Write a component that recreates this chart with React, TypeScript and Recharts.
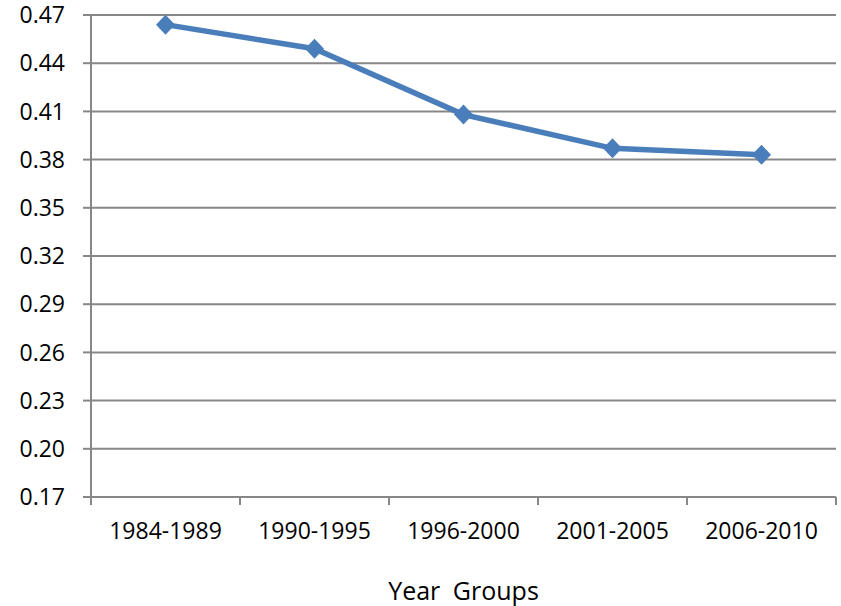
import { LineChart, Line, XAxis, YAxis, CartesianGrid, Label } from 'recharts'

const categories = ['1984-1989', '1990-1995', '1996-2000', '2001-2005', '2006-2010']
const values = [0.464, 0.449, 0.408, 0.387, 0.383]
const yTicks = [0.17, 0.2, 0.23, 0.26, 0.29, 0.32, 0.35, 0.38, 0.41, 0.44, 0.47]

// each category sits in the middle of its slot, boundaries get the tick marks
const data = categories.map((name, i) => ({ name, pos: i + 0.5, value: values[i] }))
const xTicks = Array.from({ length: categories.length * 2 + 1 }, (_, i) => i / 2)

const GRID = '#878787'
const BLUE = '#4A7EBB'
const INK = '#000'

const XTick = ({ x, y, payload }: any) => {
  const v = payload.value
  if (Number.isInteger(v)) {
    return <line x1={x} x2={x} y1={y} y2={y + 8} stroke={GRID} strokeWidth={2} />
  }
  return (
    <text x={x} y={y} dy={42} textAnchor="middle" fill={INK} fontSize={23}>
      {categories[Math.floor(v)]}
    </text>
  )
}

const Diamond = ({ cx, cy }: any) => (
  <path
    d={`M${cx},${cy - 10} L${cx + 9.5},${cy} L${cx},${cy + 10} L${cx - 9.5},${cy} Z`}
    fill={BLUE}
  />
)

export default function App() {
  return (
    <div style={{ position: 'absolute', left: 0, top: 0, width: 841, height: 606, background: '#fff', fontFamily: '"Open Sans", sans-serif' }}>
      <LineChart width={841} height={606} data={data} margin={{ top: 15, right: 5, bottom: 0, left: 0 }}>
        <CartesianGrid vertical={false} stroke={GRID} strokeWidth={2} />
        <XAxis
          dataKey="pos"
          type="number"
          domain={[0, categories.length]}
          ticks={xTicks}
          interval={0}
          height={109}
          tickSize={0}
          tickMargin={0}
          tickLine={false}
          axisLine={{ stroke: GRID, strokeWidth: 2 }}
          tick={<XTick />}
        >
          <Label value="Year Groups" position="insideBottom" offset={6} fill={INK} fontSize={25} style={{ wordSpacing: 6 }} />
        </XAxis>
        <YAxis
          width={91}
          domain={[0.17, 0.47]}
          ticks={yTicks}
          interval={0}
          tickSize={8}
          tickMargin={18}
          tickFormatter={(v: number) => v.toFixed(2)}
          tick={{ fill: INK, fontSize: 23 }}
          tickLine={{ stroke: GRID, strokeWidth: 2 }}
          axisLine={{ stroke: GRID, strokeWidth: 2 }}
        />
        <Line
          dataKey="value"
          stroke={BLUE}
          strokeWidth={5.5}
          dot={<Diamond />}
          activeDot={false}
          isAnimationActive={false}
        />
      </LineChart>
    </div>
  )
}
